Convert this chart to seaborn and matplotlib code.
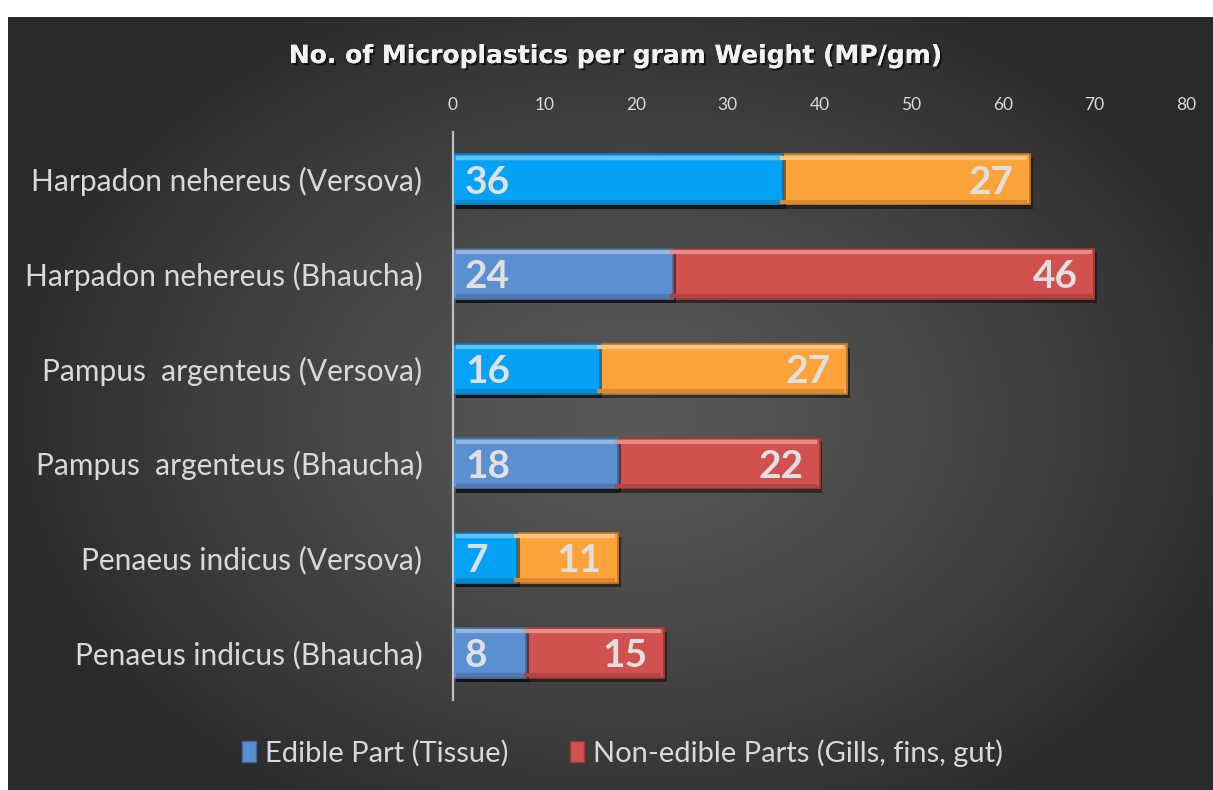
import numpy as np
import pandas as pd
import matplotlib
matplotlib.use("Agg")
import matplotlib.pyplot as plt
import matplotlib.patheffects as pe
from matplotlib.colors import to_rgb
from matplotlib.patches import Patch
import seaborn as sns

# chart data
SPECIES = [
    "Harpadon nehereus (Versova)",
    "Harpadon nehereus (Bhaucha)",
    "Pampus  argenteus (Versova)",
    "Pampus  argenteus (Bhaucha)",
    "Penaeus indicus (Versova)",
    "Penaeus indicus (Bhaucha)",
]
EDIBLE = [36, 24, 16, 18, 7, 8]
NON_EDIBLE = [27, 46, 27, 22, 11, 15]
X_TICKS = [0, 10, 20, 30, 40, 50, 60, 70, 80]
TITLE = "No. of Microplastics per gram Weight (MP/gm)"
LEGEND_LABELS = ["Edible Part (Tissue)", "Non-edible Parts (Gills, fins, gut)"]

# colours per sampling site
EDIBLE_COLORS = {"Versova": "#04a2f6", "Bhaucha": "#5a8fd1"}
NON_EDIBLE_COLORS = {"Versova": "#fea33a", "Bhaucha": "#d0514e"}
TEXT_COLOR = "#d9d9d9"


def site_of(name: str) -> str:
    return "Versova" if "Versova" in name else "Bhaucha"


def shade(color, f):
    r, g, b = to_rgb(color)
    if f < 1:
        return (r * f, g * f, b * f)
    k = f - 1
    return (r + (1 - r) * k, g + (1 - g) * k, b + (1 - b) * k)


df = pd.DataFrame({"species": SPECIES, "edible": EDIBLE, "non_edible": NON_EDIBLE})
df["total"] = df["edible"] + df["non_edible"]
edible_pal = {s: EDIBLE_COLORS[site_of(s)] for s in SPECIES}
non_edible_pal = {s: NON_EDIBLE_COLORS[site_of(s)] for s in SPECIES}

sns.set_theme(style="dark")
plt.rcParams["font.family"] = ["Lato", "DejaVu Sans"]

W, H = 1213, 790
fig = plt.figure(figsize=(W / 100, H / 100), dpi=100)
fig.patch.set_facecolor("white")

# dark radial gradient panel
bg = fig.add_axes([8 / W, 0, (W - 8) / W, (H - 17) / H], zorder=-5)
yy, xx = np.mgrid[0:1:300j, 0:1:460j]
r = np.sqrt(((xx - 0.52) / 0.75) ** 2 + ((yy - 0.52) / 0.85) ** 2)
t = np.clip(r / 0.72, 0, 1) ** 1.3
c_in, c_out = np.array(to_rgb("#585858")), np.array(to_rgb("#2a2a2a"))
img = c_in[None, None, :] * (1 - t[..., None]) + c_out[None, None, :] * t[..., None]
bg.imshow(img, aspect="auto", extent=(0, 1, 0, 1), origin="upper")
bg.set_axis_off()

ax = fig.add_axes([453 / W, 1 - 700 / H, (1186 - 453) / W, (700 - 132) / H])
ax.patch.set_alpha(0)

shadow = [pe.withSimplePatchShadow(offset=(2, -3), shadow_rgbFace="black", alpha=0.45), pe.Normal()]

sns.barplot(data=df, x="total", y="species", hue="species", palette=non_edible_pal,
            orient="h", width=0.53, legend=False, ax=ax, saturation=1)
sns.barplot(data=df, x="edible", y="species", hue="species", palette=edible_pal,
            orient="h", width=0.53, legend=False, ax=ax, saturation=1)
bars = list(ax.patches)
for p in bars:
    fc = p.get_facecolor()[:3]
    p.set_edgecolor(shade(fc, 0.72))
    p.set_linewidth(1.2)
    p.set_path_effects(shadow)
    # bevel: light strip along the top edge, darker strip along the bottom
    x0, y0, w, h = p.get_x(), p.get_y(), p.get_width(), p.get_height()
    ax.plot([x0 + 0.3, x0 + w - 0.3], [y0 + 0.035, y0 + 0.035], color=shade(fc, 1.35),
            lw=3, solid_capstyle="butt", zorder=p.get_zorder() + 0.1)
    ax.plot([x0 + 0.3, x0 + w - 0.3], [y0 + h - 0.03, y0 + h - 0.03], color=shade(fc, 0.85),
            lw=3, solid_capstyle="butt", zorder=p.get_zorder() + 0.1)

# value labels
for i, (e, n, tot) in enumerate(zip(EDIBLE, NON_EDIBLE, df["total"])):
    ax.text(1.3, i, str(e), ha="left", va="center_baseline", color="#e0e0e0",
            fontsize=28, fontweight="bold", zorder=10)
    ax.text(tot - 1.8, i, str(n), ha="right", va="center_baseline", color="#e0e0e0",
            fontsize=28, fontweight="bold", zorder=10)

ax.set_xlim(0, 80)
ax.set_ylim(len(SPECIES) - 0.5, -0.5)
ax.set_xticks(X_TICKS)
ax.xaxis.tick_top()
ax.set_xlabel("")
ax.set_ylabel("")
ax.tick_params(axis="x", length=0, pad=14, labelsize=12.5, labelcolor=TEXT_COLOR)
ax.tick_params(axis="y", length=0, pad=22, labelsize=21.5, labelcolor=TEXT_COLOR)
ax.grid(False)
for side in ["top", "right", "bottom"]:
    ax.spines[side].set_visible(False)
ax.spines["left"].set_color("#bfbfbf")
ax.spines["left"].set_linewidth(1.6)
ax.spines["left"].set_zorder(5)

fig.text(616 / W, 1 - 56 / H, TITLE, ha="center", va="center", color="#f2f2f2",
         fontsize=18, fontweight="bold", family=["DejaVu Sans"],
         path_effects=[pe.withSimplePatchShadow(offset=(1.5, -1.5), shadow_rgbFace="black", alpha=0.6),
                       pe.Normal()])

handles = [Patch(facecolor=EDIBLE_COLORS["Bhaucha"], edgecolor=shade(EDIBLE_COLORS["Bhaucha"], 0.72)),
           Patch(facecolor=NON_EDIBLE_COLORS["Bhaucha"], edgecolor=shade(NON_EDIBLE_COLORS["Bhaucha"], 0.72))]
leg = fig.legend(handles, LEGEND_LABELS, loc="center", bbox_to_anchor=(0.513, 0.047), ncol=2,
                 frameon=False, fontsize=21, handlelength=0.5, handleheight=0.7,
                 handletextpad=0.3, columnspacing=2.1)
for txt in leg.get_texts():
    txt.set_color(TEXT_COLOR)

fig.savefig("out.png", dpi=100, facecolor=fig.get_facecolor())
